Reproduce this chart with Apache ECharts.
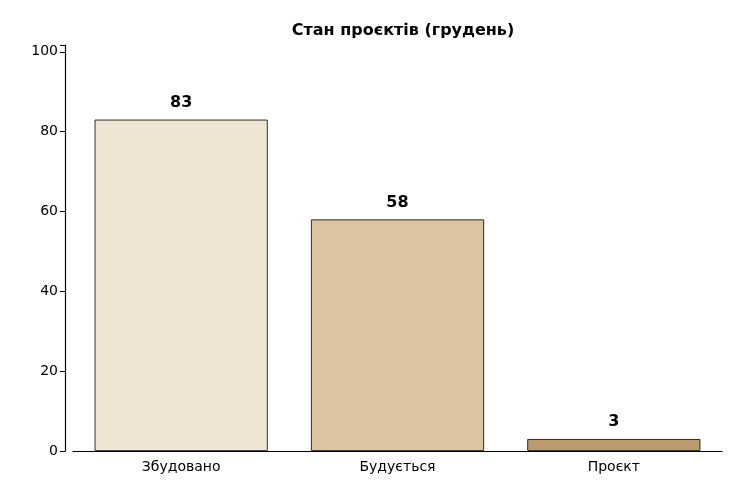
<!DOCTYPE html>
<html><head><meta charset="utf-8">
<script src="https://cdn.jsdelivr.net/npm/echarts@6/dist/echarts.min.js"></script>
<style>html,body{margin:0;padding:0;background:#fff}#c{width:750px;height:500px}</style>
</head><body><div id="c"></div>
<script>
const categories = ['Збудовано', 'Будується', 'Проєкт'];
const values = [83, 58, 3];
const colors = ['#f0e4d4', '#dcc4a0', '#bc9a70'];
const yTicks = [0, 20, 40, 60, 80, 100];

const chart = echarts.init(document.getElementById('c'));
chart.setOption({
  animation: false,
  textStyle: { fontFamily: 'DejaVu Sans' },
  title: { text: 'Стан проєктів (грудень)', left: 398, top: 18, textAlign: 'center',
    textStyle: { fontSize: 16, fontWeight: 'bold', color: '#000', fontFamily: 'DejaVu Sans' } },
  grid: { left: 73, right: 28, top: 45, bottom: 49 },
  xAxis: { type: 'category', data: categories,
    axisLine: { lineStyle: { color: '#000', width: 1.2 } },
    axisTick: { alignWithLabel: true, lineStyle: { color: '#000' }, length: 5 },
    axisLabel: { color: '#000', fontSize: 14, margin: 9 } },
  yAxis: { type: 'value', min: 0, max: 101.7, interval: 20, offset: 8,
    axisLine: { show: true, lineStyle: { color: '#000', width: 1.2 } },
    axisTick: { show: true, lineStyle: { color: '#000' }, length: 5 },
    splitLine: { show: false },
    axisLabel: { color: '#000', fontSize: 14, margin: 7,
      formatter: v => yTicks.includes(v) ? String(v) : '' } },
  series: [{ type: 'bar', barWidth: '80%',
    data: values.map((v, i) => ({ value: v, itemStyle: { color: colors[i] } })),
    itemStyle: { borderColor: '#000', borderWidth: 0.8 },
    label: { show: true, position: 'top', distance: 9, color: '#000', fontWeight: 'bold', fontSize: 16 } }]
});
</script></body></html>
